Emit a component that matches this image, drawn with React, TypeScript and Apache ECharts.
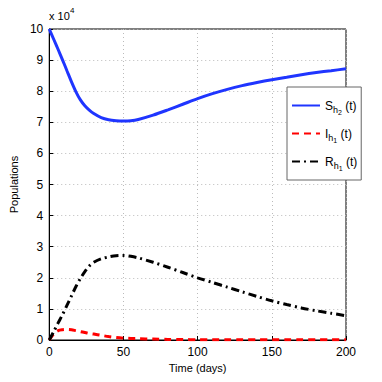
import React, { useEffect, useRef } from "react";
import * as echarts from "echarts";

const tDays = [0, 3, 6, 9, 12, 15, 18, 21, 24, 27, 30, 35, 40, 45, 50, 55, 60, 70, 80, 90, 100, 110, 120, 130, 140, 150, 160, 170, 180, 190, 200];
const sH2 = [10, 9.67, 9.34, 9.0, 8.65, 8.3, 7.98, 7.72, 7.53, 7.39, 7.28, 7.15, 7.08, 7.05, 7.04, 7.05, 7.09, 7.23, 7.4, 7.58, 7.76, 7.92, 8.06, 8.18, 8.28, 8.37, 8.45, 8.53, 8.6, 8.66, 8.72];
const iH1 = [0, 0.2, 0.3, 0.33, 0.34, 0.33, 0.3, 0.27, 0.24, 0.21, 0.19, 0.15, 0.11, 0.08, 0.06, 0.05, 0.04, 0.03, 0.02, 0.015, 0.01, 0.01, 0.01, 0.01, 0.01, 0.01, 0.01, 0.01, 0.01, 0.01, 0.01];
const rH1 = [0, 0.27, 0.55, 0.82, 1.12, 1.42, 1.72, 1.98, 2.2, 2.38, 2.5, 2.61, 2.67, 2.71, 2.72, 2.69, 2.64, 2.5, 2.34, 2.17, 2.0, 1.85, 1.7, 1.55, 1.4, 1.26, 1.14, 1.03, 0.94, 0.86, 0.78];
const seriesNames = ["S", "I", "R"];
const xTicks = [0, 50, 100, 150, 200];

const pair = (ys: number[]) => tDays.map((t, i) => [t, ys[i]]);

export default function App() {
  const ref = useRef<HTMLDivElement>(null);
  useEffect(() => {
    const chart = echarts.init(ref.current!, null, { renderer: "svg" });
    const font = "Liberation Sans";
    const rich = {
      b: { fontSize: 12, fontFamily: font, color: "#000", lineHeight: 14 },
      s: { fontSize: 9, fontFamily: font, color: "#000", padding: [8, 0, 0, 0], lineHeight: 14 },
      ss: { fontSize: 7, fontFamily: font, color: "#000", padding: [14, 0, 0, 0], lineHeight: 14 },
    };
    const labels: Record<string, string> = {
      S: "{b|S}{s|h}{ss|2}{b| (t)}",
      I: "{b|I}{s|h}{ss|1}{b| (t)}",
      R: "{b|R}{s|h}{ss|1}{b| (t)}",
    };
    chart.setOption({
      animation: false,
      textStyle: { fontFamily: font },
      grid: { left: 49, right: 36, top: 29, bottom: 42, show: true, borderColor: "#000", borderWidth: 1 },
      xAxis: {
        type: "value",
        min: 0,
        max: 200,
        interval: 50,
        name: "Time (days)",
        nameLocation: "middle",
        nameGap: 18,
        nameTextStyle: { fontSize: 11, color: "#000", fontFamily: font },
        axisLine: { lineStyle: { color: "#000" } },
        axisTick: { inside: true, length: 4, lineStyle: { color: "#000" } },
        axisLabel: { fontSize: 12, color: "#000", margin: 6, customValues: xTicks },
        splitLine: { show: true, lineStyle: { color: "#bbb", type: [1, 3] } },
      },
      yAxis: {
        type: "value",
        min: 0,
        max: 10,
        interval: 1,
        name: "Populations",
        nameLocation: "middle",
        nameGap: 20,
        nameRotate: 90,
        nameTextStyle: { fontSize: 11, color: "#000", fontFamily: font },
        axisLine: { lineStyle: { color: "#000" } },
        axisTick: { inside: true, length: 4, lineStyle: { color: "#000" } },
        axisLabel: { fontSize: 12, color: "#000", margin: 6 },
        splitLine: { show: true, lineStyle: { color: "#bbb", type: [1, 3] } },
      },
      legend: {
        orient: "vertical",
        left: 287,
        top: 87,
        width: 60,
        itemWidth: 28,
        itemHeight: 10,
        itemGap: 7,
        padding: [8, 4, 8, 4],
        backgroundColor: "#fff",
        borderColor: "#666",
        borderWidth: 1,
        data: seriesNames,
        formatter: (n: string) => labels[n],
        textStyle: { rich },
        itemStyle: { opacity: 0 },
      },
      graphic: [
        {
          type: "text",
          left: 49,
          top: 10,
          style: { text: "x 10", fontSize: 11, fontFamily: font, fill: "#000" },
        },
        {
          type: "text",
          left: 70,
          top: 6,
          style: { text: "4", fontSize: 8, fontFamily: font, fill: "#000" },
        },
      ],
      series: [
        {
          name: "S",
          type: "line",
          data: pair(sH2),
          smooth: 0.3,
          symbol: "none",
          lineStyle: { color: "#1f35ff", width: 3 },
          itemStyle: { color: "#1f35ff" },
        },
        {
          name: "I",
          type: "line",
          data: pair(iH1),
          smooth: 0.3,
          symbol: "none",
          lineStyle: { color: "#ff0000", width: 3, type: [7, 5] },
          itemStyle: { color: "#ff0000" },
        },
        {
          name: "R",
          type: "line",
          data: pair(rH1),
          smooth: 0.3,
          symbol: "none",
          lineStyle: { color: "#000", width: 3, type: [8, 4, 2, 4] },
          itemStyle: { color: "#000" },
        },
      ],
    });
    return () => chart.dispose();
  }, []);
  return <div ref={ref} style={{ width: 382, height: 382, margin: -8 }} />;
}
